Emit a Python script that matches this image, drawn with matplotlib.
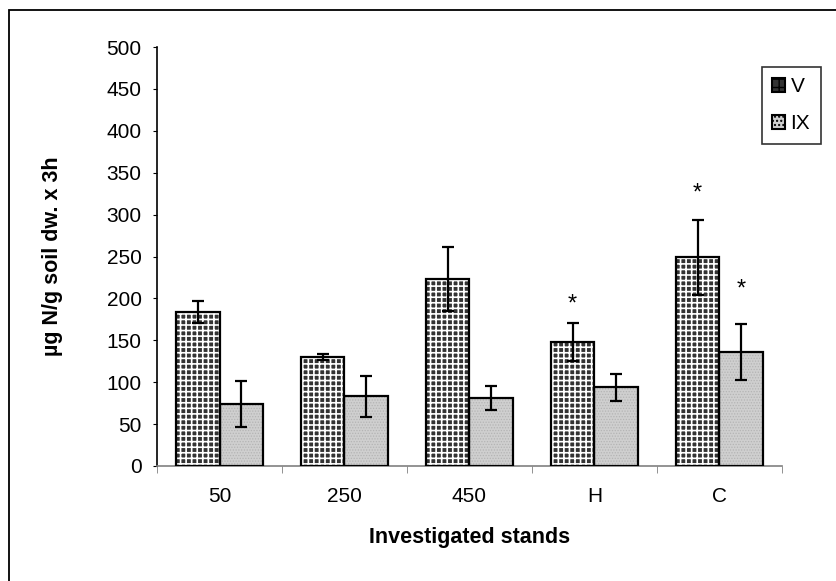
import matplotlib.pyplot as plt
import matplotlib.patches as mpatches
import numpy as np

plt.rcParams["font.family"] = ["Liberation Sans", "DejaVu Sans"]

# Data
stands = ["50", "250", "450", "H", "C"]
v_means = [184, 130, 223, 148, 249]
v_err = [13, 4, 38, 23, 45]
ix_means = [74, 83, 81, 94, 136]
ix_err = [27, 24, 14, 16, 33]
# significance marks (height of the asterisk, None = no mark)
v_star = [None, None, None, 193, 325]
ix_star = [None, None, None, None, 210]

fig = plt.figure(figsize=(8.36, 5.81), dpi=100)
ax = fig.add_axes([0.1878, 0.198, 0.7476, 0.721])

# Outer frame (left and top edges visible)
frame = mpatches.Rectangle((9 / 836, -0.1), 1.2, 1 - 10 / 581 + 0.1, transform=fig.transFigure,
                           fill=False, edgecolor="black", linewidth=1.3, zorder=0)
fig.patches.append(frame)

x = np.arange(len(stands))
w = 0.35
v_face, v_hatch = "#333333", "+++"
ix_face, ix_hatch = "#cfcfcf", "......"

# V bars: dark dots on a white grid, drawn as fill + outline
with plt.rc_context({"hatch.linewidth": 1.2}):
    ax.bar(x - w / 2, v_means, w, color=v_face, hatch=v_hatch, edgecolor="white", linewidth=0, zorder=2)
with plt.rc_context({"hatch.linewidth": 0.6}):
    ax.bar(x + w / 2, ix_means, w, color=ix_face, hatch=ix_hatch, edgecolor="#b4b4b4", linewidth=0, zorder=2)
ax.bar(x - w / 2, v_means, w, facecolor="none", edgecolor="black", linewidth=1.6, zorder=3)
ax.bar(x + w / 2, ix_means, w, facecolor="none", edgecolor="black", linewidth=1.6, zorder=3)

ax.errorbar(x - w / 2, v_means, yerr=v_err, fmt="none", ecolor="black", elinewidth=1.6, capsize=4.5, capthick=1.6, zorder=4)
ax.errorbar(x + w / 2, ix_means, yerr=ix_err, fmt="none", ecolor="black", elinewidth=1.6, capsize=4.5, capthick=1.6, zorder=4)

for i in range(len(stands)):
    if v_star[i] is not None:
        ax.text(x[i] - w / 2, v_star[i], "*", ha="center", va="center", fontsize=17)
    if ix_star[i] is not None:
        ax.text(x[i] + w / 2, ix_star[i], "*", ha="center", va="center", fontsize=17)

ax.set_xlim(-0.5, len(stands) - 0.5)
ax.set_ylim(0, 500)
ax.set_yticks(np.arange(0, 501, 50))
ax.set_xticks(x)
ax.set_xticklabels(stands)
ax.set_xticks(np.arange(-0.5, len(stands)), minor=True)
ax.tick_params(axis="x", which="major", length=0, labelsize=15, pad=15)
ax.tick_params(axis="x", which="minor", length=5, color="#808080")
ax.tick_params(axis="y", length=3, labelsize=15, pad=8)

for s in ["top", "right"]:
    ax.spines[s].set_visible(False)
ax.spines["left"].set_linewidth(1.2)
ax.spines["bottom"].set_color("#808080")
ax.spines["bottom"].set_linewidth(1.2)

ax.set_xlabel("Investigated stands", fontsize=15.5, fontweight="bold")
ax.xaxis.set_label_coords(0.5, -0.146)
ax.set_ylabel("µg N/g soil dw. x 3h", fontsize=15.5, fontweight="bold")
ax.yaxis.set_label_coords(-0.150, 0.5)

v_patch = mpatches.Patch(facecolor=v_face, hatch="++", edgecolor="black", linewidth=1.5, label="V")
ix_patch = mpatches.Patch(facecolor=ix_face, hatch="....", edgecolor="black", linewidth=1.5, label="IX")
leg = fig.legend(handles=[v_patch, ix_patch], loc="upper left", bbox_to_anchor=(762 / 836, 1 - 67 / 581),
                 fontsize=15, frameon=True, fancybox=False, edgecolor="black", handlelength=0.62,
                 handleheight=0.62, handletextpad=0.25, borderpad=0.5, labelspacing=0.85, borderaxespad=0)
leg.get_frame().set_linewidth(1.2)

fig.savefig("out.png", dpi=100)
